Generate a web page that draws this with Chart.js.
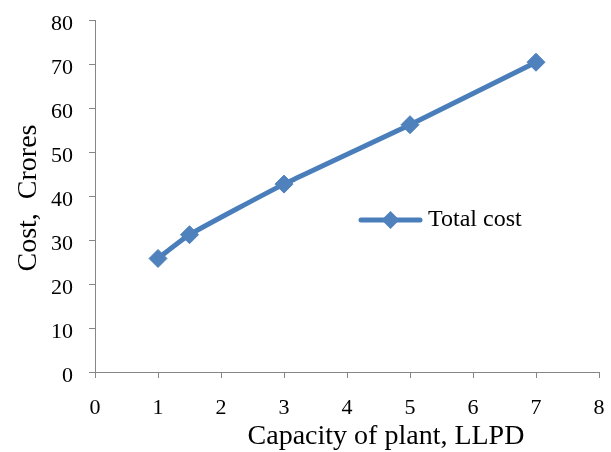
<!DOCTYPE html>
<html>
<head>
<meta charset="utf-8">
<script src="https://cdn.jsdelivr.net/npm/chart.js@4"></script>
<style>
  html, body { margin: 0; padding: 0; background: #ffffff; }
  #wrap { width: 611px; height: 452px; }
</style>
</head>
<body>
<div id="wrap"><canvas id="chart" width="611" height="452"></canvas></div>
<script>
// Plant capacity (LLPD) against total cost (Crores)
const capacity = [1, 1.5, 3, 5, 7];
const totalCost = [25.8, 31.2, 42.7, 56.2, 70.4];
const seriesName = 'Total cost';
const xTitle = 'Capacity of plant, LLPD';
const yTitle = 'Cost,  Crores';

const FONT = '"Liberation Serif", "Times New Roman", Times, serif';
const AXIS_GREY = '#868686';
const LINE_BLUE = '#4A7EBB';
const MARK_BLUE = '#4F81BD';

// Keep the plot box fixed: no extra room reserved for overhanging tick labels
function fixScale(scale, key, size) {
  scale[key] = size;
  scale.paddingTop = 0;
  scale.paddingBottom = 0;
  scale.paddingLeft = 0;
  scale.paddingRight = 0;
}

// Axis titles and an in-plot legend entry
const decorations = {
  id: 'decorations',
  afterDraw(chart) {
    const ctx = chart.ctx;
    const a = chart.chartArea;
    ctx.save();
    ctx.fillStyle = '#000000';
    ctx.font = '28px ' + FONT;
    ctx.textAlign = 'center';
    ctx.textBaseline = 'middle';
    ctx.fillText(xTitle, a.left + 291, a.bottom + 65);
    ctx.save();
    ctx.translate(29, a.top + 178);
    ctx.rotate(-Math.PI / 2);
    ctx.fillText(yTitle, 0, 0);
    ctx.restore();

    // legend entry
    const lx = a.left + 266, ly = a.top + 200;
    ctx.strokeStyle = LINE_BLUE;
    ctx.lineWidth = 5;
    ctx.lineCap = 'round';
    ctx.beginPath();
    ctx.moveTo(lx, ly);
    ctx.lineTo(lx + 59, ly);
    ctx.stroke();
    const cx = lx + 29.5, r = 9;
    ctx.fillStyle = MARK_BLUE;
    ctx.beginPath();
    ctx.moveTo(cx - r, ly);
    ctx.lineTo(cx, ly - r);
    ctx.lineTo(cx + r, ly);
    ctx.lineTo(cx, ly + r);
    ctx.closePath();
    ctx.fill();
    ctx.fillStyle = '#000000';
    ctx.font = '24px ' + FONT;
    ctx.textAlign = 'left';
    ctx.fillText(seriesName, lx + 67, ly);
    ctx.restore();
  }
};

new Chart(document.getElementById('chart'), {
  type: 'line',
  data: {
    datasets: [{
      label: seriesName,
      data: capacity.map((c, i) => ({ x: c, y: totalCost[i] })),
      borderColor: LINE_BLUE,
      borderWidth: 5,
      tension: 0.15,
      pointStyle: 'rectRot',
      pointRadius: 9,
      pointHoverRadius: 9,
      pointBackgroundColor: MARK_BLUE,
      pointBorderColor: MARK_BLUE,
      pointBorderWidth: 1,
      fill: false
    }]
  },
  options: {
    responsive: false,
    animation: false,
    layout: { padding: { top: 20, right: 12, bottom: 0, left: 0 } },
    plugins: {
      legend: { display: false },
      tooltip: { enabled: false }
    },
    scales: {
      x: {
        type: 'linear',
        min: 0,
        max: 8,
        afterFit(scale) { fixScale(scale, 'height', 80); },
        ticks: {
          stepSize: 1,
          color: '#000000',
          font: { family: FONT, size: 22 },
          padding: 17,
          maxRotation: 0
        },
        grid: {
          drawOnChartArea: false,
          drawTicks: true,
          tickLength: 6,
          color: AXIS_GREY
        },
        border: { color: AXIS_GREY, width: 1 }
      },
      y: {
        min: 0,
        max: 80,
        afterFit(scale) { fixScale(scale, 'width', 95); },
        ticks: {
          stepSize: 10,
          color: '#000000',
          font: { family: FONT, size: 22 },
          padding: 16,
          labelOffset: 4
        },
        grid: {
          drawOnChartArea: false,
          drawTicks: true,
          tickLength: 6,
          color: AXIS_GREY
        },
        border: { color: AXIS_GREY, width: 1 }
      }
    }
  },
  plugins: [decorations]
});
</script>
</body>
</html>
